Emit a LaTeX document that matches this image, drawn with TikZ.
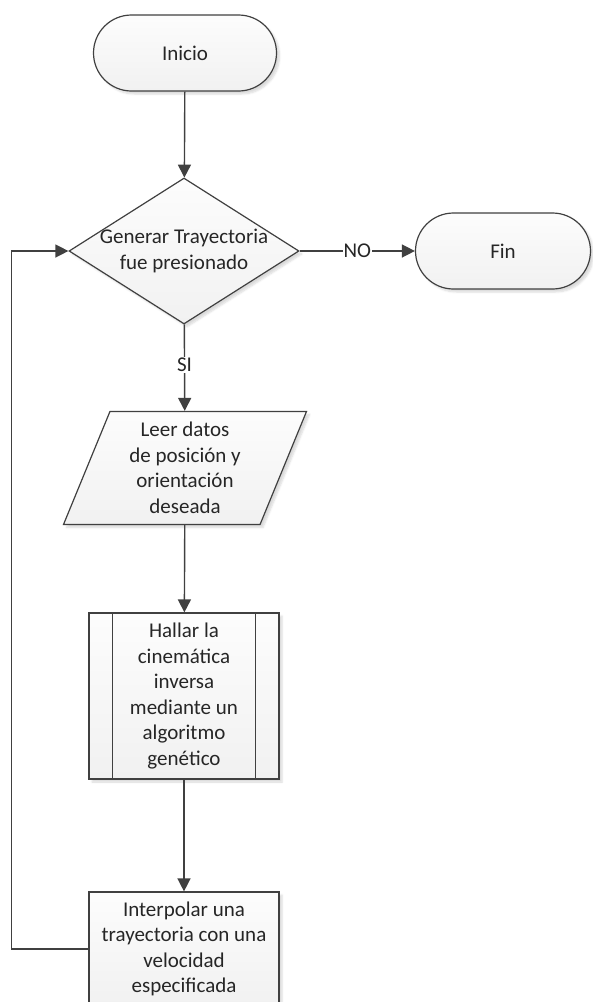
\documentclass[tikz,border=0pt]{standalone}
\usepackage{fontspec}
\setmainfont{Carlito}
\usetikzlibrary{shapes.geometric,shapes.misc,arrows.meta,shadows.blur,calc}

\definecolor{linegray}{HTML}{404040}
\definecolor{textgray}{HTML}{262626}

\tikzset{
  block/.style={draw=linegray, line width=1.2pt, top color=gray!2, bottom color=gray!11,
    text=textgray, font=\fontsize{21}{25.5}\selectfont, align=center, inner sep=3pt,
    blur shadow={shadow xshift=3pt, shadow yshift=-3pt, shadow opacity=15, shadow blur steps=6}},
  terminal/.style={block, rounded rectangle, minimum width=189pt, minimum height=76pt},
  decision/.style={block, diamond, inner sep=0pt, minimum width=230pt, minimum height=146pt},
  datos/.style={block, trapezium, trapezium left angle=64, trapezium right angle=116,
    trapezium stretches body, inner sep=2pt, minimum width=243pt, minimum height=113pt},
  proceso/.style={block, rectangle, minimum width=190pt},
  flow/.style={draw=linegray, line width=1.4pt, -{Triangle[length=13pt,width=13pt]}},
  etiqueta/.style={fill=white, text=textgray, font=\fontsize{21}{25.5}\selectfont, inner sep=1pt}
}

\begin{document}
\begin{tikzpicture}[x=1pt, y=-1pt]
    \useasboundingbox (0,0) rectangle (593,1002);
    \clip (0,0) rectangle (593,1002);

    % Inicio / Fin
    \node[terminal] (inicio) at (185,53) {Inicio};
    \node[terminal, minimum width=181pt] (fin) at (503,251) {Fin};

    % Pregunta
    \node[decision, label={[text=textgray, font=\fontsize{21}{25.5}\selectfont, align=center]center:Generar Trayectoria\\fue presionado}] (pregunta) at (184,251) {};

    % Entrada de datos
    \node[datos] (leer) at (185,468) {Leer datos\\de posición y\\orientación\\deseada};

    % Subproceso con las dos barras
    \node[proceso, minimum height=166pt] (hallar) at (184,696)
        {Hallar la\\cinemática\\inversa\\mediante un\\algoritmo\\genético};
    \draw[linegray, line width=1.2pt] ($(hallar.north west)+(24,0)$) -- ($(hallar.south west)+(24,0)$);
    \draw[linegray, line width=1.2pt] ($(hallar.north east)+(-24,0)$) -- ($(hallar.south east)+(-24,0)$);

    % Proceso final (sale por abajo)
    \node[proceso, minimum height=114pt] (interp) at (184,949)
        {Interpolar una\\trayectoria con una\\velocidad\\especificada};

    % Flechas
    \draw[flow] (inicio) -- (pregunta);
    \draw[flow] (pregunta) -- node[etiqueta] {NO} (fin);
    \draw[flow] (pregunta) -- node[etiqueta, pos=0.47] {SI} (leer);
    \draw[flow] (leer) -- (hallar);
    \draw[flow] (hallar) -- (interp);
    % Regreso a la pregunta
    \draw[flow] (interp.west) -- ++(-77,0) |- (pregunta.west);
\end{tikzpicture}
\end{document}
